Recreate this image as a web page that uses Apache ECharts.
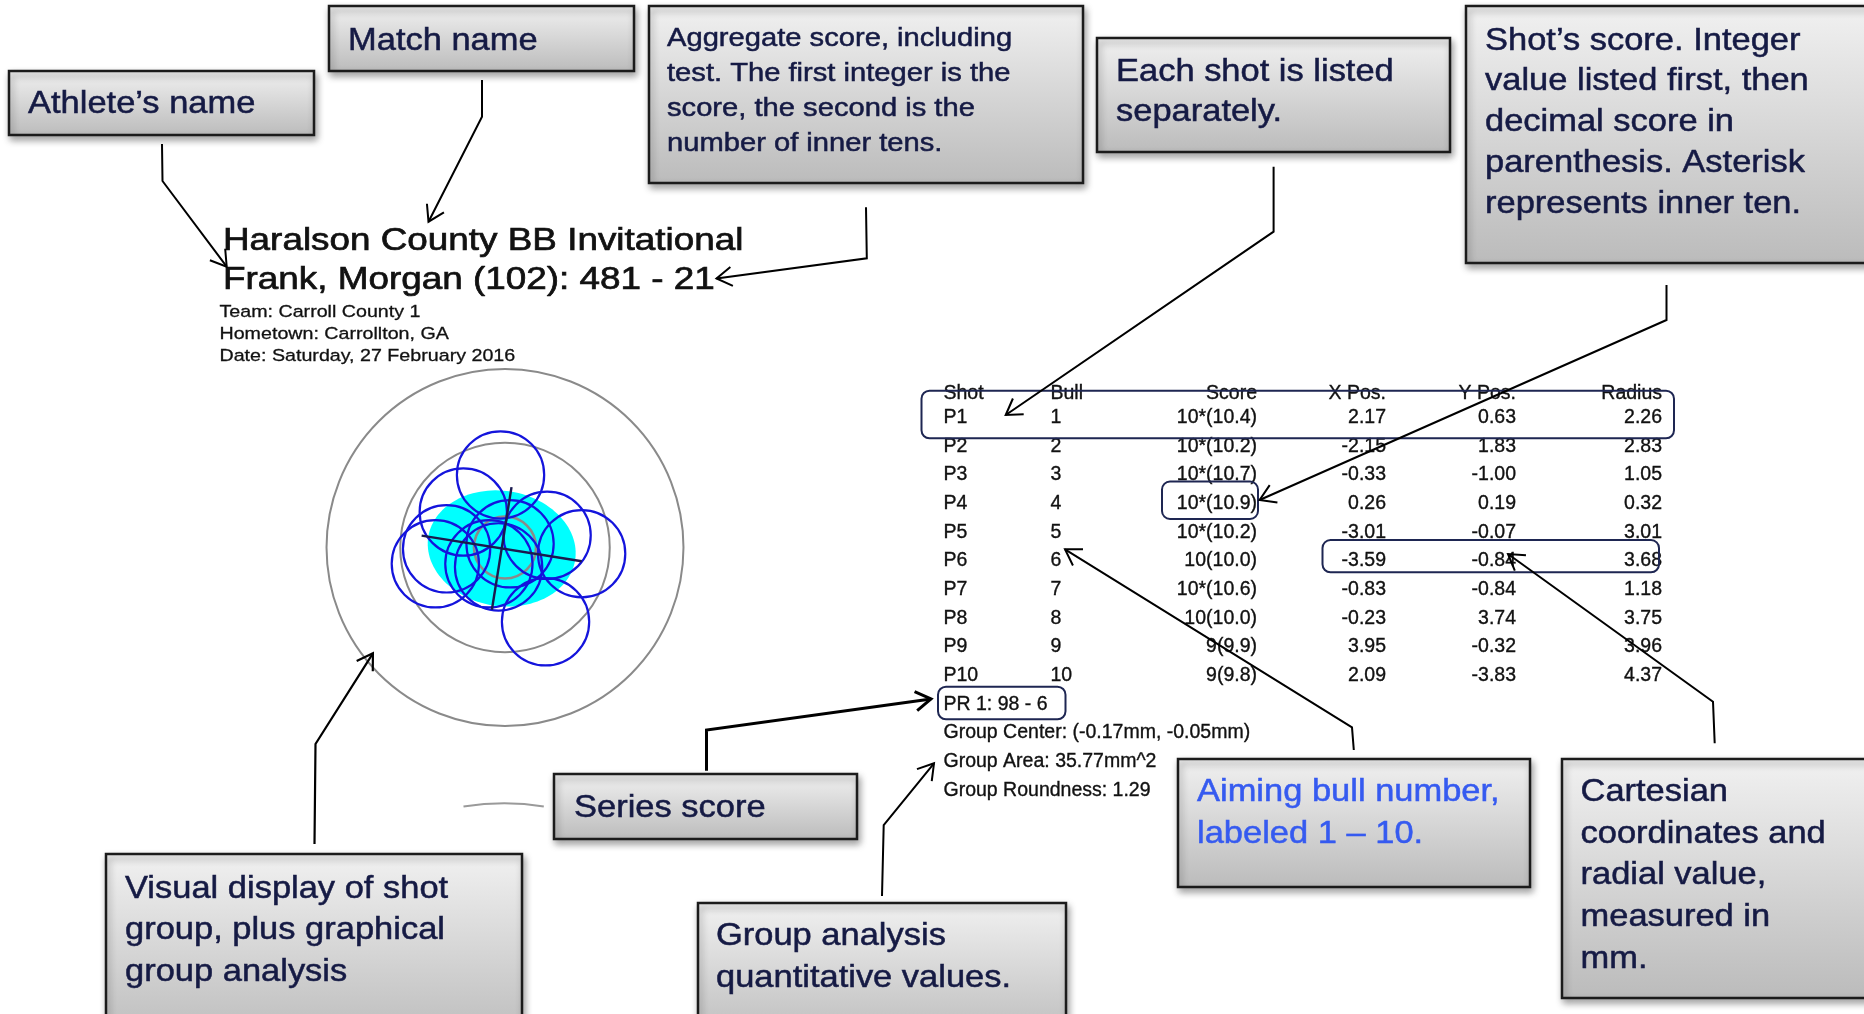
<!DOCTYPE html>
<html>
<head>
<meta charset="utf-8">
<script src="https://cdn.jsdelivr.net/npm/echarts@6/dist/echarts.min.js"></script>
<style>
html,body{margin:0;padding:0;background:#ffffff;}
#chart{width:1864px;height:1014px;}
</style>
</head>
<body>
<div id="chart"></div>
<script>
// ---------------- DATA ----------------
const matchName = 'Haralson County BB Invitational';
const athleteLine = 'Frank, Morgan (102): 481 - 21';
const infoLines = ['Team: Carroll County 1', 'Hometown: Carrollton, GA', 'Date: Saturday, 27 February 2016'];

const tableHeaders = ['Shot', 'Bull', 'Score', 'X Pos.', 'Y Pos.', 'Radius'];
const shotNames = ['P1', 'P2', 'P3', 'P4', 'P5', 'P6', 'P7', 'P8', 'P9', 'P10'];
const bulls = [1, 2, 3, 4, 5, 6, 7, 8, 9, 10];
const scoreInts = [10, 10, 10, 10, 10, 10, 10, 10, 9, 9];
const innerTens = [true, true, true, true, true, false, true, false, false, false];
const decimalScores = [10.4, 10.2, 10.7, 10.9, 10.2, 10.0, 10.6, 10.0, 9.9, 9.8];
const xPos = [2.17, -2.15, -0.33, 0.26, -3.01, -3.59, -0.83, -0.23, 3.95, 2.09];
const yPos = [0.63, 1.83, -1.00, 0.19, -0.07, -0.84, -0.84, 3.74, -0.32, -3.83];
const radii = [2.26, 2.83, 1.05, 0.32, 3.01, 3.68, 1.18, 3.75, 3.96, 4.37];

const pelletRadius = 2.25;          // mm
const ringRadii = [9.2, 5.4, 1.6];  // mm
const seriesLabel = 'PR 1: 98 - 6';
const groupCenter = [-0.17, -0.05]; // mm
const groupArea = 35.77;            // mm^2
const groupRoundness = 1.29;
const groupAngle = -9.1;            // degrees, major axis
const axisLineHalf = [4.18, 3.2];   // mm, drawn principal axes

const calloutTexts = [
  ['Athlete\u2019s name'],
  ['Match name'],
  ['Aggregate score, including', 'test. The first integer is the', 'score, the second is the', 'number of inner tens.'],
  ['Each shot is listed', 'separately.'],
  ['Shot\u2019s score. Integer', 'value listed first, then', 'decimal score in', 'parenthesis. Asterisk', 'represents inner ten.'],
  ['Series score'],
  ['Visual display of shot', 'group, plus graphical', 'group analysis'],
  ['Group analysis', 'quantitative values.'],
  ['Aiming bull number,', 'labeled 1 \u2013 10.'],
  ['Cartesian', 'coordinates and', 'radial value,', 'measured in', 'mm.']
];

// ---------------- LAYOUT / STYLE ----------------
const FONT = '"Liberation Sans", Arial, Helvetica, sans-serif';
const NAVY = '#151a44';
const BLUE_TEXT = '#355af0';
const TY = 2.5; // vertical text nudge

const calloutLayout = [
  {box: [9, 71, 305, 64], tx: 28, ty: [102.5]},
  {box: [329, 6, 305, 65], tx: 348, ty: [39]},
  {box: [649, 6, 434, 177], tx: 667, ty: [36, 71, 106, 141], fs: 25.8},
  {box: [1097, 38, 353, 114], tx: 1116, ty: [70, 110.5]},
  {box: [1466, 6, 430, 257], tx: 1485, ty: [39, 79.5, 120.5, 161.5, 202.5]},
  {box: [554, 774, 303, 65], tx: 574, ty: [806]},
  {box: [106, 854, 416, 190], tx: 125, ty: [887, 928.3, 969.8]},
  {box: [698, 903, 368, 140], tx: 716, ty: [934.5, 976]},
  {box: [1178, 759, 352, 128], tx: 1197, ty: [790.5, 831.8], color: BLUE_TEXT},
  {box: [1562, 759, 330, 239], tx: 1580.5, ty: [790, 831.7, 873, 915, 957]}
];

const arrows = [
  {pts: [[162, 144], [162.5, 181], [226.7, 266.7]], w: 2},
  {pts: [[482, 80], [482, 116.7], [428.5, 221.7]], w: 2},
  {pts: [[866, 207.3], [866.8, 258.3], [716.5, 278.5]], w: 2},
  {pts: [[1273.6, 166.7], [1273.6, 231.7], [1005.7, 415]], w: 2},
  {pts: [[1666.5, 285], [1666.5, 320], [1259.6, 500]], w: 2},
  {pts: [[314.5, 844], [315.5, 744], [372.9, 653.3]], w: 2.2},
  {pts: [[706.5, 770.7], [706.5, 730], [931, 699]], w: 3},
  {pts: [[882, 896], [883.7, 825], [934, 763.3]], w: 2},
  {pts: [[1353.8, 750], [1352, 727.3], [1065, 549.3]], w: 2},
  {pts: [[1714.7, 743.3], [1713, 701.7], [1508, 554]], w: 2}
];

const highlightBoxes = [
  [921.5, 390.7, 752.5, 47.6],
  [1162, 481.5, 96, 37.5],
  [1322.5, 540, 336.5, 32.3],
  [938, 686.7, 127.5, 32.6]
];

const tableColX = [943.5, 1050.5, 1257, 1386, 1516, 1662];
const tableColAlign = ['left', 'left', 'right', 'right', 'right', 'right'];
const tableHeaderY = 391;
const tableRow0Y = 415.2;
const tableRowStep = 28.67;

// ---------------- BUILD ----------------
const graphics = [];

function text(str, x, y, fs, color, opt) {
  opt = opt || {};
  return {
    type: 'text', x: x, y: y + TY, scaleX: opt.sx || 1, z: opt.z || 20,
    style: {text: str, fontSize: fs, fontFamily: FONT, fill: color,
            stroke: color, lineWidth: opt.lw || 0.35,
            align: opt.align || 'left', verticalAlign: 'middle'}
  };
}

// callout boxes
calloutLayout.forEach(function (c, i) {
  const b = c.box;
  graphics.push({
    type: 'rect', x: b[0], y: b[1], z: 10,
    shape: {x: 0, y: 0, width: b[2], height: b[3]},
    style: {
      fill: {type: 'linear', x: 0, y: 0, x2: 0, y2: 1,
             colorStops: [{offset: 0, color: '#f1f1f1'}, {offset: 1, color: '#bbbbbb'}]},
      stroke: '#1b1b1b', lineWidth: 2.5,
      shadowBlur: 7, shadowOffsetX: 2, shadowOffsetY: 4, shadowColor: 'rgba(0,0,0,0.35)'
    }
  });
  calloutTexts[i].forEach(function (line, k) {
    graphics.push(text(line, c.tx, c.ty[k], c.fs || 30.5, c.color || NAVY, {sx: 1.13, z: 11, lw: 0.5}));
  });
});

// title block
graphics.push(text(matchName, 223, 239, 31.5, '#111111', {sx: 1.17, lw: 0.7}));
graphics.push(text(athleteLine, 223, 278, 31.5, '#111111', {sx: 1.17, lw: 0.7}));
const infoY = [309.5, 331.5, 353.5];
infoLines.forEach(function (l, i) {
  graphics.push(text(l, 219.5, infoY[i], 17.4, '#111111', {sx: 1.13, lw: 0.3}));
});

// shot table
tableHeaders.forEach(function (h, c) {
  graphics.push(text(h, tableColX[c], tableHeaderY, 19.5, '#111111', {align: tableColAlign[c]}));
});
shotNames.forEach(function (name, i) {
  const cells = [
    name,
    String(bulls[i]),
    scoreInts[i] + (innerTens[i] ? '*' : '') + '(' + decimalScores[i].toFixed(1) + ')',
    xPos[i].toFixed(2),
    yPos[i].toFixed(2),
    radii[i].toFixed(2)
  ];
  const y = tableRow0Y + i * tableRowStep;
  cells.forEach(function (s, c) {
    graphics.push(text(s, tableColX[c], y, 19.5, '#111111', {align: tableColAlign[c]}));
  });
});
const summaryLines = [
  seriesLabel,
  'Group Center: (' + groupCenter[0].toFixed(2) + 'mm, ' + groupCenter[1].toFixed(2) + 'mm)',
  'Group Area: ' + groupArea.toFixed(2) + 'mm^2',
  'Group Roundness: ' + groupRoundness.toFixed(2)
];
summaryLines.forEach(function (l, i) {
  graphics.push(text(l, tableColX[0], tableRow0Y + (shotNames.length + i) * tableRowStep, 19.5, '#111111'));
});

// highlight boxes
highlightBoxes.forEach(function (b) {
  graphics.push({
    type: 'rect', z: 22,
    shape: {x: b[0], y: b[1], width: b[2], height: b[3], r: 8},
    style: {fill: 'none', stroke: '#1e2652', lineWidth: 2}
  });
});

// arrows
function head(p1, p2) {
  const a = Math.atan2(p2[1] - p1[1], p2[0] - p1[0]);
  const len = 18, da = 32 * Math.PI / 180;
  return [
    [p2[0] - len * Math.cos(a - da), p2[1] - len * Math.sin(a - da)],
    p2,
    [p2[0] - len * Math.cos(a + da), p2[1] - len * Math.sin(a + da)]
  ];
}
arrows.forEach(function (ar) {
  graphics.push({type: 'polyline', z: 25, shape: {points: ar.pts},
    style: {stroke: '#000000', lineWidth: ar.w, fill: 'none'}});
  const n = ar.pts.length;
  graphics.push({type: 'polyline', z: 25, shape: {points: head(ar.pts[n - 2], ar.pts[n - 1])},
    style: {stroke: '#000000', lineWidth: ar.w, fill: 'none'}});
});

// small stray gray arc fragment
graphics.push({type: 'bezierCurve', z: 5,
  shape: {x1: 463.5, y1: 806.5, x2: 543.8, y2: 806.5, cpx1: 505, cpy1: 800},
  style: {stroke: '#9a9a9a', lineWidth: 2, fill: 'none'}});

// ---------------- TARGET (ECharts cartesian) ----------------
const semiMinor = Math.sqrt(groupArea / (Math.PI * groupRoundness));
const semiMajor = groupRoundness * semiMinor;

const chart = echarts.init(document.getElementById('chart'), null, {renderer: 'canvas'});
chart.setOption({
  animation: false,
  backgroundColor: '#ffffff',
  grid: {left: 311, top: 353.5, width: 388, height: 388},
  xAxis: {type: 'value', min: -10, max: 10, show: false},
  yAxis: {type: 'value', min: -10, max: 10, show: false},
  graphic: {elements: graphics},
  series: [
    {
      type: 'custom', name: 'group ellipse', z: 2,
      data: [[groupCenter[0], groupCenter[1], semiMajor, semiMinor, groupAngle]],
      encode: {x: 0, y: 1},
      renderItem: function (params, api) {
        const cx = api.value(0), cy = api.value(1), a = api.value(2), b = api.value(3);
        const ang = api.value(4) * Math.PI / 180;
        const pts = [];
        for (let i = 0; i < 120; i++) {
          const t = i / 120 * 2 * Math.PI;
          const ex = a * Math.cos(t), ey = b * Math.sin(t);
          pts.push(api.coord([cx + ex * Math.cos(ang) - ey * Math.sin(ang),
                              cy + ex * Math.sin(ang) + ey * Math.cos(ang)]));
        }
        return {type: 'polygon', shape: {points: pts}, style: {fill: '#00ffff', stroke: 'none'}};
      }
    },
    {
      type: 'custom', name: 'rings', z: 3,
      data: ringRadii.map(function (r) { return [0, 0, r]; }),
      encode: {x: 0, y: 1},
      renderItem: function (params, api) {
        const c = api.coord([api.value(0), api.value(1)]);
        const r = api.size([api.value(2), 0])[0];
        return {type: 'circle', shape: {cx: c[0], cy: c[1], r: r},
          style: {fill: 'none', stroke: '#8a8a8a', lineWidth: params.dataIndex === 2 ? 2.6 : 2}};
      }
    },
    {
      type: 'custom', name: 'shots', z: 4,
      data: xPos.map(function (x, i) { return [x, yPos[i], pelletRadius]; }),
      encode: {x: 0, y: 1},
      renderItem: function (params, api) {
        const c = api.coord([api.value(0), api.value(1)]);
        const r = api.size([api.value(2), 0])[0];
        return {type: 'circle', shape: {cx: c[0], cy: c[1], r: r},
          style: {fill: 'none', stroke: '#1414dc', lineWidth: 2.2}};
      }
    },
    {
      type: 'custom', name: 'group axes', z: 5,
      data: [[groupCenter[0], groupCenter[1], axisLineHalf[0], groupAngle],
             [groupCenter[0], groupCenter[1], axisLineHalf[1], groupAngle + 90]],
      encode: {x: 0, y: 1},
      renderItem: function (params, api) {
        const cx = api.value(0), cy = api.value(1), h = api.value(2);
        const ang = api.value(3) * Math.PI / 180;
        const p1 = api.coord([cx - h * Math.cos(ang), cy - h * Math.sin(ang)]);
        const p2 = api.coord([cx + h * Math.cos(ang), cy + h * Math.sin(ang)]);
        return {type: 'line', shape: {x1: p1[0], y1: p1[1], x2: p2[0], y2: p2[1]},
          style: {stroke: '#1a1a4e', lineWidth: 2.4}};
      }
    }
  ]
});
</script>
</body>
</html>
